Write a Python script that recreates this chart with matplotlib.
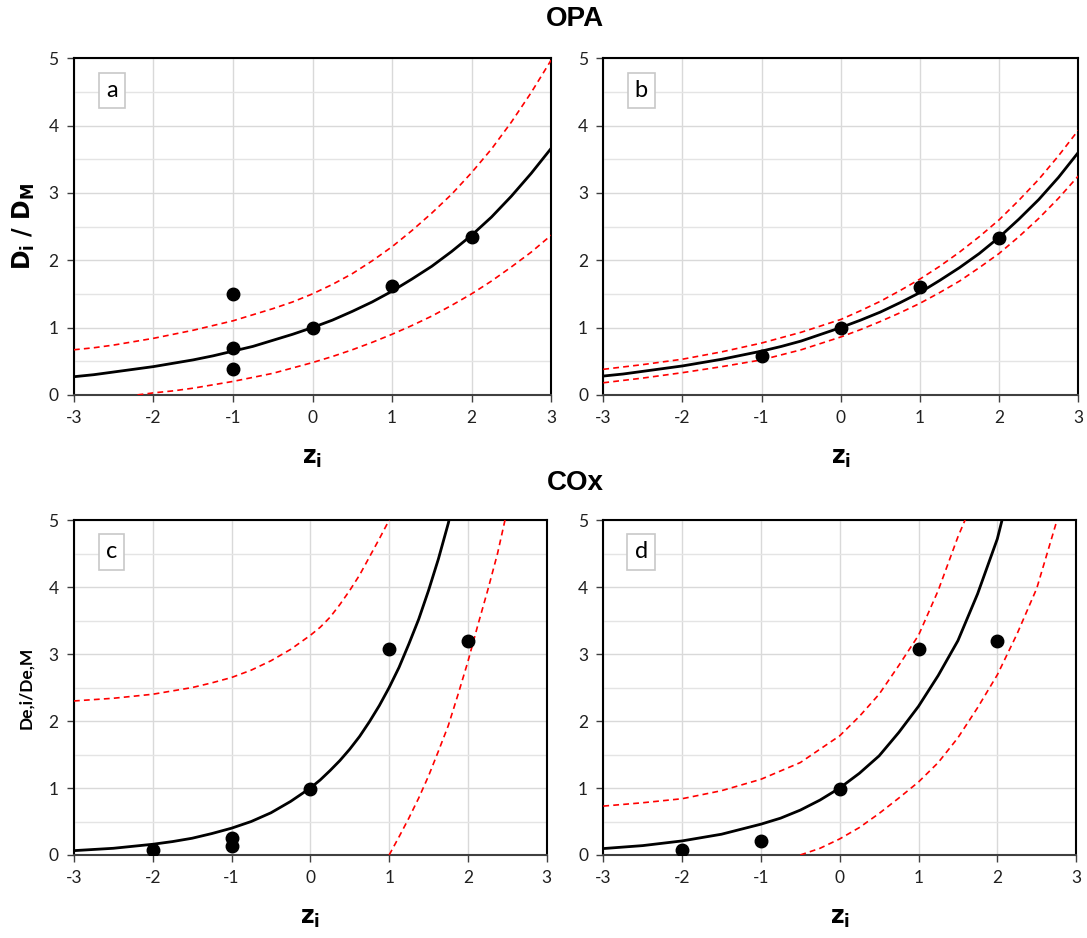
import matplotlib
matplotlib.use("Agg")
import matplotlib.pyplot as plt
from matplotlib.ticker import MultipleLocator

# ---- data ----
# OPA, panel a
a_pts_z = [-1, -1, -1, 0, 1, 2]
a_pts_d = [1.50, 0.70, 0.38, 1.00, 1.61, 2.34]
a_fit_z = [-3, -2.75, -2.5, -2.25, -2, -1.75, -1.5, -1.25, -1, -0.75, -0.5, -0.25, 0,
           0.25, 0.5, 0.75, 1, 1.25, 1.5, 1.75, 2, 2.25, 2.5, 2.75, 3]
a_fit_d = [0.27, 0.30, 0.34, 0.38, 0.42, 0.47, 0.52, 0.58, 0.65, 0.72, 0.81, 0.90, 1.0,
           1.11, 1.24, 1.38, 1.54, 1.72, 1.91, 2.13, 2.37, 2.64, 2.95, 3.29, 3.66]
a_up_z = [-3, -2.75, -2.5, -2.25, -2, -1.75, -1.5, -1.25, -1, -0.75, -0.5, -0.25, 0,
          0.25, 0.5, 0.75, 1, 1.25, 1.5, 1.75, 2, 2.25, 2.5, 2.75, 3]
a_up_d = [0.67, 0.70, 0.74, 0.79, 0.84, 0.90, 0.96, 1.03, 1.10, 1.19, 1.28, 1.38, 1.50,
          1.64, 1.80, 1.99, 2.20, 2.44, 2.70, 2.98, 3.30, 3.65, 4.05, 4.49, 4.97]
a_lo_z = [-2.2, -2, -1.75, -1.5, -1.25, -1, -0.75, -0.5, -0.25, 0,
          0.25, 0.5, 0.75, 1, 1.25, 1.5, 1.75, 2, 2.25, 2.5, 2.75, 3]
a_lo_d = [0.0, 0.03, 0.06, 0.10, 0.15, 0.20, 0.26, 0.32, 0.40, 0.48,
          0.57, 0.67, 0.78, 0.90, 1.03, 1.17, 1.33, 1.50, 1.69, 1.90, 2.12, 2.37]

# OPA, panel b
b_pts_z = [-1, 0, 1, 2]
b_pts_d = [0.58, 0.99, 1.60, 2.33]
b_fit_z = [-3, -2.75, -2.5, -2.25, -2, -1.75, -1.5, -1.25, -1, -0.75, -0.5, -0.25, 0,
           0.25, 0.5, 0.75, 1, 1.25, 1.5, 1.75, 2, 2.25, 2.5, 2.75, 3]
b_fit_d = [0.28, 0.31, 0.35, 0.39, 0.43, 0.48, 0.53, 0.59, 0.65, 0.72, 0.80, 0.90, 1.0,
           1.11, 1.23, 1.37, 1.52, 1.70, 1.89, 2.10, 2.34, 2.61, 2.90, 3.23, 3.60]
b_up_z = [-3, -2.5, -2, -1.5, -1, -0.5, 0, 0.25, 0.5, 0.75, 1, 1.25, 1.5, 1.75,
          2, 2.25, 2.5, 2.75, 3]
b_up_d = [0.38, 0.45, 0.53, 0.64, 0.77, 0.93, 1.12, 1.25, 1.39, 1.55, 1.72, 1.91, 2.12, 2.35,
          2.60, 2.89, 3.20, 3.55, 3.93]
b_lo_z = [-3, -2.5, -2, -1.5, -1, -0.5, 0, 0.25, 0.5, 0.75, 1, 1.25, 1.5, 1.75,
          2, 2.25, 2.5, 2.75, 3]
b_lo_d = [0.18, 0.25, 0.33, 0.42, 0.52, 0.67, 0.86, 0.97, 1.09, 1.22, 1.36, 1.52, 1.69, 1.89,
          2.10, 2.35, 2.62, 2.92, 3.25]

# COx, panel c
c_pts_z = [-2, -1, -1, 0, 1, 2]
c_pts_d = [0.08, 0.26, 0.13, 0.99, 3.08, 3.20]
c_fit_z = [-3, -2.5, -2, -1.75, -1.5, -1.25, -1, -0.75, -0.5, -0.25, 0, 0.125, 0.25, 0.375,
           0.5, 0.625, 0.75, 0.875, 1, 1.125, 1.25, 1.375, 1.5, 1.625, 1.75, 1.8]
c_fit_d = [0.065, 0.10, 0.16, 0.20, 0.25, 0.32, 0.40, 0.50, 0.63, 0.80, 1.0, 1.12, 1.26, 1.41,
           1.58, 1.77, 1.99, 2.23, 2.50, 2.80, 3.15, 3.52, 3.95, 4.42, 4.95, 5.2]
c_up_z = [-3, -2.5, -2, -1.5, -1.25, -1, -0.75, -0.5, -0.25, 0, 0.125, 0.25, 0.375,
          0.5, 0.625, 0.75, 0.875, 1.0, 1.05]
c_up_d = [2.30, 2.34, 2.40, 2.50, 2.57, 2.65, 2.76, 2.90, 3.07, 3.28, 3.40, 3.55, 3.74,
          3.95, 4.18, 4.45, 4.72, 5.0, 5.12]
c_lo_z = [1.0, 1.125, 1.25, 1.375, 1.5, 1.625, 1.75, 1.875, 2.0, 2.125, 2.25, 2.375, 2.47, 2.5]
c_lo_d = [0.0, 0.27, 0.55, 0.85, 1.18, 1.55, 1.93, 2.40, 2.89, 3.43, 3.95, 4.50, 5.0, 5.15]

# COx, panel d
d_pts_z = [-2, -1, 0, 1, 2]
d_pts_d = [0.08, 0.21, 0.99, 3.08, 3.20]
d_fit_z = [-3, -2.5, -2, -1.5, -1, -0.75, -0.5, -0.25, 0, 0.25, 0.5, 0.75, 1,
           1.25, 1.5, 1.75, 2.0, 2.06, 2.1]
d_fit_d = [0.096, 0.14, 0.21, 0.31, 0.46, 0.55, 0.67, 0.82, 1.0, 1.22, 1.48, 1.83, 2.22,
           2.68, 3.20, 3.90, 4.72, 5.0, 5.2]
d_up_z = [-3, -2.5, -2, -1.5, -1, -0.5, 0, 0.25, 0.5, 0.75, 1, 1.25, 1.5, 1.59, 1.62]
d_up_d = [0.73, 0.78, 0.84, 0.96, 1.13, 1.38, 1.78, 2.07, 2.40, 2.83, 3.28, 3.95, 4.75, 5.0, 5.1]
d_lo_z = [-0.5, -0.25, 0, 0.25, 0.5, 0.75, 1, 1.25, 1.5, 1.75, 2, 2.25, 2.5, 2.75]
d_lo_d = [0.0, 0.10, 0.24, 0.41, 0.62, 0.85, 1.09, 1.38, 1.75, 2.20, 2.69, 3.30, 3.98, 4.97]

panels = [
    ("a", a_pts_z, a_pts_d, a_fit_z, a_fit_d, a_up_z, a_up_d, a_lo_z, a_lo_d),
    ("b", b_pts_z, b_pts_d, b_fit_z, b_fit_d, b_up_z, b_up_d, b_lo_z, b_lo_d),
    ("c", c_pts_z, c_pts_d, c_fit_z, c_fit_d, c_up_z, c_up_d, c_lo_z, c_lo_d),
    ("d", d_pts_z, d_pts_d, d_fit_z, d_fit_d, d_up_z, d_up_d, d_lo_z, d_lo_d),
]

# axes rectangles in figure fractions (left, bottom, width, height)
rects = {
    "a": (0.068, 0.579, 0.439, 0.359),
    "b": (0.555, 0.579, 0.437, 0.359),
    "c": (0.068, 0.0885, 0.435, 0.357),
    "d": (0.555, 0.0885, 0.435, 0.357),
}

TICK_FONT = "Lato"
GRID = "#d9d9d9"

fig = plt.figure(figsize=(10.87, 9.38), dpi=100)

for name, pz, pd_, fz, fd, uz, ud, lz, ld in panels:
    ax = fig.add_axes(rects[name])
    ax.set_xlim(-3, 3)
    ax.set_ylim(0, 5)
    ax.xaxis.set_major_locator(MultipleLocator(1))
    ax.yaxis.set_major_locator(MultipleLocator(1))
    ax.yaxis.set_minor_locator(MultipleLocator(0.5))
    ax.grid(which="major", color=GRID, lw=1.0)
    ax.grid(which="minor", axis="y", color="#e4e4e4", lw=1.0)
    ax.set_axisbelow(True)

    ax.plot(uz, ud, color="red", lw=1.2, ls=(0, (3.5, 2.5)), zorder=3)
    ax.plot(lz, ld, color="red", lw=1.2, ls=(0, (3.5, 2.5)), zorder=3)
    ax.plot(fz, fd, color="black", lw=2.0, zorder=4, solid_joinstyle="round")
    ax.plot(pz, pd_, "o", color="black", ms=9, zorder=5)

    for s in ax.spines.values():
        s.set_color("black")
        s.set_linewidth(1.5)
    ax.spines["bottom"].set_color("#404040")
    ax.tick_params(which="major", direction="out", length=5, width=1,
                   color="#404040", labelsize=12.5, pad=6)
    ax.tick_params(which="minor", length=0)
    for lab in ax.get_yticklabels():
        lab.set_fontfamily(TICK_FONT)
        lab.set_color("#202020")
    ax.set_xticks([-3, -2, -1, 0, 1, 2, 3])
    ax.set_xticklabels(["-3", "-2", "-1", "0", "1", "2", "3"],
                       fontfamily=TICK_FONT, color="#202020")

    ax.set_xlabel(r"$\mathbf{z_i}$", fontsize=17, labelpad=14)

    ax.text(0.08, 0.905, name, transform=ax.transAxes, ha="center", va="center",
            fontsize=17, fontfamily=TICK_FONT, zorder=6,
            bbox=dict(boxstyle="square,pad=0.3", fc="white", ec="#c8c8c8", lw=1.2))

fig.axes[0].set_ylabel(r"$\mathbf{D_i\ /\ D_M}$", fontsize=17, labelpad=8)
fig.axes[2].set_ylabel("De,i/De,M", fontsize=12.5, fontweight="bold",
                       fontfamily=TICK_FONT, labelpad=10)

fig.text(0.529, 0.980, "OPA", ha="center", va="center", fontsize=20,
         fontweight="bold", fontfamily="Liberation Sans")
fig.text(0.529, 0.485, "COx", ha="center", va="center", fontsize=20,
         fontweight="bold", fontfamily="Liberation Sans")

fig.savefig("out.png", dpi=100)
